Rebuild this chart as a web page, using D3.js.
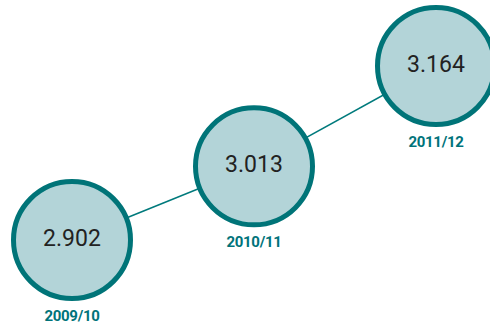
<!DOCTYPE html>
<html>
<head>
<meta charset="utf-8">
<script src="https://cdn.jsdelivr.net/npm/d3@7"></script>
<style>
body { margin: 0; background: #fff; }
</style>
</head>
<body>
<svg id="chart" width="490" height="329"></svg>
<script>
var jahre = ["2009/10", "2010/11", "2011/12"];
var werte = [2.902, 3.013, 3.164];
var werteText = ["2.902", "3.013", "3.164"];

var svg = d3.select("#chart");
var radius = 58.5;

var x = d3.scalePoint()
    .domain(jahre)
    .range([72, 436]);

var y = d3.scaleLinear()
    .domain([2.902, 3.164])
    .range([240, 66]);

var punkte = jahre.map(function(j, i) {
    return { jahr: j, wert: werte[i], text: werteText[i] };
});

// Verbindungslinien zwischen den Kreisen
svg.selectAll(".linie")
    .data(punkte.slice(1))
    .enter()
    .append("line")
    .attr("class", "linie")
    .attr("x1", function(d, i) { return x(punkte[i].jahr); })
    .attr("y1", function(d, i) { return y(punkte[i].wert); })
    .attr("x2", function(d) { return x(d.jahr); })
    .attr("y2", function(d) { return y(d.wert); })
    .attr("stroke", "#007a7c")
    .attr("stroke-width", 1.5);

svg.selectAll(".kreis")
    .data(punkte)
    .enter()
    .append("circle")
    .attr("class", "kreis")
    .attr("cx", function(d) { return x(d.jahr); })
    .attr("cy", function(d) { return y(d.wert); })
    .attr("r", radius)
    .attr("fill", "#b3d4d8")
    .attr("stroke", "#007478")
    .attr("stroke-width", 5);

svg.selectAll(".wert")
    .data(punkte)
    .enter()
    .append("text")
    .attr("class", "wert")
    .attr("x", function(d) { return x(d.jahr); })
    .attr("y", function(d) { return y(d.wert) + 6; })
    .attr("text-anchor", "middle")
    .style("font-family", "Roboto, 'Noto Sans', sans-serif")
    .style("font-size", "23px")
    .style("font-weight", "400")
    .style("fill", "#222")
    .text(function(d) { return d.text; });

svg.selectAll(".jahr")
    .data(punkte)
    .enter()
    .append("text")
    .attr("class", "jahr")
    .attr("x", function(d) { return x(d.jahr); })
    .attr("y", function(d) { return y(d.wert) + 81; })
    .attr("text-anchor", "middle")
    .style("font-family", "Roboto, 'Noto Sans', sans-serif")
    .style("font-size", "15px")
    .style("font-weight", "bold")
    .style("letter-spacing", "-0.3px")
    .style("fill", "#00737a")
    .text(function(d) { return d.jahr; });
</script>
</body>
</html>
